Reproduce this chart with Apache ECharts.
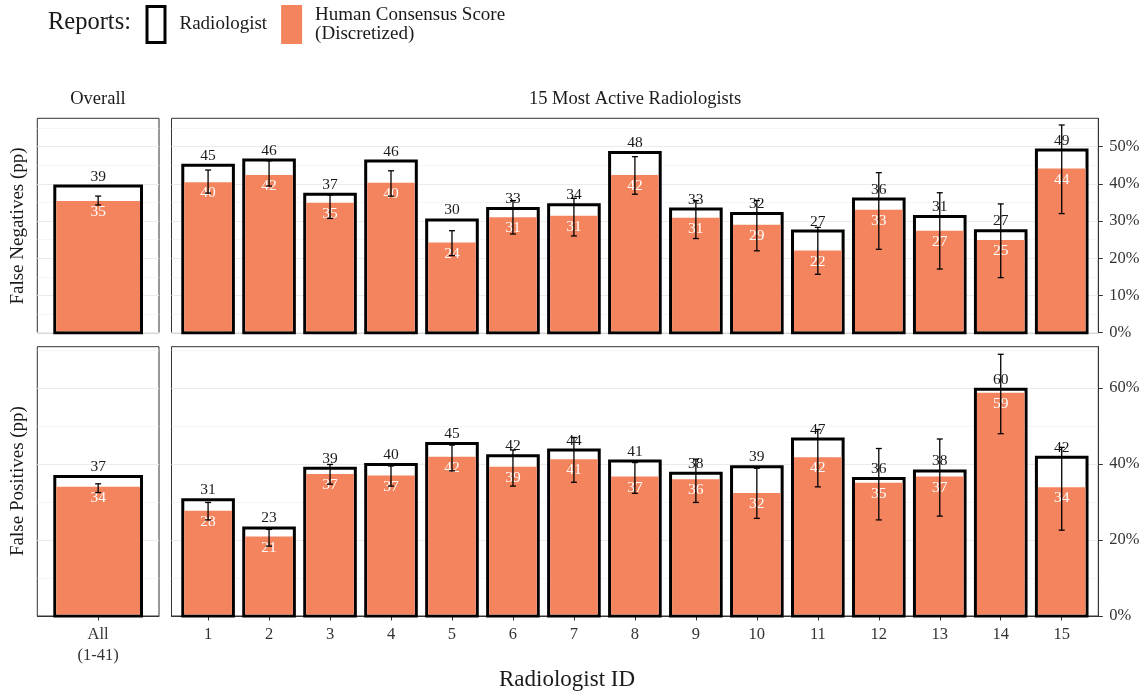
<!DOCTYPE html>
<html><head><meta charset="utf-8">
<script src="https://cdn.jsdelivr.net/npm/echarts@6/dist/echarts.min.js"></script>
<style>html,body{margin:0;padding:0;background:#fff}#c{width:1146px;height:698px}</style>
</head><body><div id="c"></div>
<script>
// ---------- data ----------
const radiologistIds = [1, 2, 3, 4, 5, 6, 7, 8, 9, 10, 11, 12, 13, 14, 15];
const overallIds = [1];
const overallTickLabel = 'All\n(1-41)';

// False negatives (percentage points)
const fnRadiologist = [45.0, 46.4, 37.2, 46.1, 30.3, 33.4, 34.4, 48.4, 33.2, 32.0, 27.3, 35.9, 31.2, 27.4, 49.1];
const fnConsensus   = [40.4, 42.4, 34.9, 40.3, 24.2, 31.0, 31.4, 42.4, 30.9, 29.0, 22.1, 33.0, 27.4, 24.9, 44.1];
const fnLow         = [37.5, 39.4, 30.7, 36.7, 20.7, 26.5, 26.0, 37.2, 25.3, 22.0, 15.7, 22.4, 17.1, 14.8, 32.0];
const fnHigh        = [43.7, 46.2, 37.0, 43.5, 27.4, 35.5, 36.1, 47.3, 35.5, 35.5, 28.3, 43.0, 37.6, 34.6, 55.8];
const fnOverallRadiologist = [39.4];
const fnOverallConsensus   = [35.4];
const fnOverallLow         = [34.3];
const fnOverallHigh        = [36.7];

// False positives (percentage points)
const fpRadiologist = [30.6, 23.2, 38.9, 39.9, 45.4, 42.2, 43.7, 40.8, 37.6, 39.3, 46.6, 36.2, 38.2, 59.7, 41.8];
const fpConsensus   = [27.7, 20.9, 37.4, 37.0, 41.9, 39.3, 41.3, 36.7, 36.0, 32.4, 41.8, 35.1, 36.7, 58.8, 33.9];
const fpLow         = [25.3, 18.4, 34.7, 34.2, 38.2, 34.2, 35.2, 32.3, 29.9, 25.7, 34.0, 25.3, 26.3, 48.0, 22.6];
const fpHigh        = [29.9, 22.8, 39.9, 39.5, 45.0, 43.7, 47.0, 40.4, 41.3, 38.9, 49.1, 44.1, 46.6, 68.9, 44.4];
const fpOverallRadiologist = [36.7];
const fpOverallConsensus   = [34.0];
const fpOverallLow         = [32.5];
const fpOverallHigh        = [34.8];

const fnMajorTicks = [0, 10, 20, 30, 40, 50];
const fnMinorTicks = [5, 15, 25, 35, 45, 55];
const fpMajorTicks = [0, 20, 40, 60];
const fpMinorTicks = [10, 30, 50, 70];

// ---------- styling ----------
const FONT = '"Liberation Serif", "DejaVu Serif", serif';
const ORANGE = '#F3845E';
const TXT = '#1a1a1a';
const NAME_RAD = 'Radiologist';
const NAME_CON = 'Human Consensus Score\n(Discretized)';

function pairs(xs, ys) { return xs.map((x, i) => [x, ys[i]]); }
function triples(xs, lo, hi) { return xs.map((x, i) => [x, lo[i], hi[i]]); }

function outlineRender(frac) {
  return function (params, api) {
    const x = api.value(0), v = api.value(1);
    const w = api.size([1, 0])[0] * frac;
    const top = api.coord([x, v]);
    const base = api.coord([x, 0]);
    return { type: 'group', children: [
      { type: 'rect', shape: { x: top[0] - w / 2, y: top[1], width: w, height: base[1] - top[1] },
        style: { fill: '#fff', stroke: '#000', lineWidth: 3 } },
      { type: 'text', style: { text: String(Math.round(v)), x: top[0], y: top[1] - 9.5,
        align: 'center', verticalAlign: 'middle', fill: TXT, font: '15.5px ' + FONT } }
    ] };
  };
}
function fillRender(frac) {
  return function (params, api) {
    const x = api.value(0), v = api.value(1);
    const w = api.size([1, 0])[0] * frac - 3;
    const top = api.coord([x, v]);
    const base = api.coord([x, 0]);
    return { type: 'group', children: [
      { type: 'rect', shape: { x: top[0] - w / 2, y: top[1], width: w, height: base[1] - 1.5 - top[1] },
        style: { fill: ORANGE } },
      { type: 'text', style: { text: String(Math.round(v)), x: top[0], y: top[1] + 11,
        align: 'center', verticalAlign: 'middle', fill: '#fff', font: '15.5px ' + FONT } }
    ] };
  };
}
function errRender(params, api) {
  const x = api.value(0);
  const lo = api.coord([x, api.value(1)]);
  const hi = api.coord([x, api.value(2)]);
  const c = 3;
  const st = { stroke: '#000', lineWidth: 1.3 };
  return { type: 'group', children: [
    { type: 'line', shape: { x1: lo[0], y1: lo[1], x2: hi[0], y2: hi[1] }, style: st },
    { type: 'line', shape: { x1: lo[0] - c, y1: lo[1], x2: lo[0] + c, y2: lo[1] }, style: st },
    { type: 'line', shape: { x1: hi[0] - c, y1: hi[1], x2: hi[0] + c, y2: hi[1] }, style: st }
  ] };
}

// grids: 0 TL, 1 TR, 2 BL, 3 BR
const grids = [
  { left: 37.3, top: 118.3, width: 121.7, height: 214.4 },
  { left: 171.5, top: 118.3, width: 926.8, height: 214.4 },
  { left: 37.3, top: 346.7, width: 121.7, height: 269.3 },
  { left: 171.5, top: 346.7, width: 926.8, height: 269.3 }
].map(g => Object.assign({ show: true, borderColor: '#333', borderWidth: 1, backgroundColor: 'transparent' }, g));

function xAxisFor(gi) {
  const overall = gi % 2 === 0;
  const bottom = gi >= 2;
  const vals = overall ? overallIds : radiologistIds;
  return {
    type: 'value', gridIndex: gi,
    min: 0.4, max: overall ? 1.6 : 15.6,
    axisLine: { show: bottom, onZero: false, lineStyle: { color: '#333', width: 1 } },
    axisTick: { show: bottom, customValues: vals, length: 4.5, lineStyle: { color: '#333', width: 1 } },
    axisLabel: { show: bottom, customValues: vals, margin: 8, lineHeight: 21,
      color: '#333', fontFamily: FONT, fontSize: 16.5,
      formatter: v => overall ? overallTickLabel : String(v) },
    splitLine: { show: false }
  };
}
function yAxesFor(gi) {
  const top = gi < 2;
  const right = gi % 2 === 1;
  const max = top ? 57.6 : 70.9;
  const major = top ? fnMajorTicks : fpMajorTicks;
  const minor = top ? fnMinorTicks : fpMinorTicks;
  return [
    { type: 'value', gridIndex: gi, min: 0, max: max, position: right ? 'right' : 'left',
      axisLine: { show: right, lineStyle: { color: '#333', width: 1 } },
      axisTick: { show: right, customValues: major, length: 4.5, lineStyle: { color: '#333' } },
      axisLabel: { show: right, customValues: major, margin: 11, formatter: '{value}%',
        color: '#333', fontFamily: FONT, fontSize: 16.5 },
      splitLine: { show: true, lineStyle: { color: '#EBEBEB', width: 1.1 } } },
    { type: 'value', gridIndex: gi, min: 0, max: max, position: right ? 'left' : 'right',
      axisLine: { show: false }, axisLabel: { show: false },
      axisTick: { show: false, customValues: minor },
      splitLine: { show: true, lineStyle: { color: '#EEEEEE', width: 0.6 } } }
  ];
}

const panelData = [
  { ids: overallIds, rad: fnOverallRadiologist, con: fnOverallConsensus, lo: fnOverallLow, hi: fnOverallHigh, frac: 0.855 },
  { ids: radiologistIds, rad: fnRadiologist, con: fnConsensus, lo: fnLow, hi: fnHigh, frac: 0.83 },
  { ids: overallIds, rad: fpOverallRadiologist, con: fpOverallConsensus, lo: fpOverallLow, hi: fpOverallHigh, frac: 0.855 },
  { ids: radiologistIds, rad: fpRadiologist, con: fpConsensus, lo: fpLow, hi: fpHigh, frac: 0.83 }
];

const xAxes = [0, 1, 2, 3].map(xAxisFor);
const yAxes = [];
[0, 1, 2, 3].forEach(gi => yAxes.push(...yAxesFor(gi)));

const series = [];
panelData.forEach((p, gi) => {
  series.push({ type: 'custom', name: NAME_RAD, xAxisIndex: gi, yAxisIndex: gi * 2, z: 2,
    renderItem: outlineRender(p.frac), data: pairs(p.ids, p.rad), itemStyle: { color: '#fff', borderColor: '#000' } });
  series.push({ type: 'custom', name: NAME_CON, xAxisIndex: gi, yAxisIndex: gi * 2, z: 3,
    renderItem: fillRender(p.frac), data: pairs(p.ids, p.con), itemStyle: { color: ORANGE } });
  series.push({ type: 'custom', name: 'interval', xAxisIndex: gi, yAxisIndex: gi * 2, z: 4,
    renderItem: errRender, data: triples(p.ids, p.lo, p.hi) });
});

const textStyle = (s) => Object.assign({ fill: TXT, fontFamily: FONT }, s);

const option = {
  animation: false,
  backgroundColor: '#fff',
  grid: grids,
  xAxis: xAxes,
  yAxis: yAxes,
  series: series,
  legend: {
    left: 145.5, top: 5, padding: 0, orient: 'horizontal',
    itemWidth: 18, itemHeight: 36, itemGap: 14, selectedMode: false,
    textStyle: { fontFamily: FONT, fontSize: 19, color: TXT, lineHeight: 19.5, padding: [0, 0, 0, 9.5] },
    data: [
      { name: NAME_RAD, icon: 'rect', itemStyle: { color: '#fff', borderColor: '#000', borderWidth: 3 } },
      { name: NAME_CON, icon: 'rect', itemStyle: { color: ORANGE, borderColor: ORANGE, borderWidth: 3 } }
    ]
  },
  graphic: [
    { type: 'text', x: 48, y: 23, style: textStyle({ text: 'Reports:', fontSize: 24.5, verticalAlign: 'middle' }) },
    { type: 'text', x: 98, y: 99, style: textStyle({ text: 'Overall', fontSize: 18.5, align: 'center', verticalAlign: 'middle' }) },
    { type: 'text', x: 635, y: 99, style: textStyle({ text: '15 Most Active Radiologists', fontSize: 18.5, align: 'center', verticalAlign: 'middle' }) },
    { type: 'text', x: 18, y: 226, rotation: Math.PI / 2, style: textStyle({ text: 'False Negatives (pp)', fontSize: 19, align: 'center', verticalAlign: 'middle' }) },
    { type: 'text', x: 18, y: 481, rotation: Math.PI / 2, style: textStyle({ text: 'False Positives (pp)', fontSize: 19, align: 'center', verticalAlign: 'middle' }) },
    { type: 'text', x: 567, y: 680, style: textStyle({ text: 'Radiologist ID', fontSize: 23, align: 'center', verticalAlign: 'middle' }) }
  ]
};
const chart = echarts.init(document.getElementById('c'), null, { renderer: 'canvas' });
chart.setOption(option);
</script>
</body></html>
